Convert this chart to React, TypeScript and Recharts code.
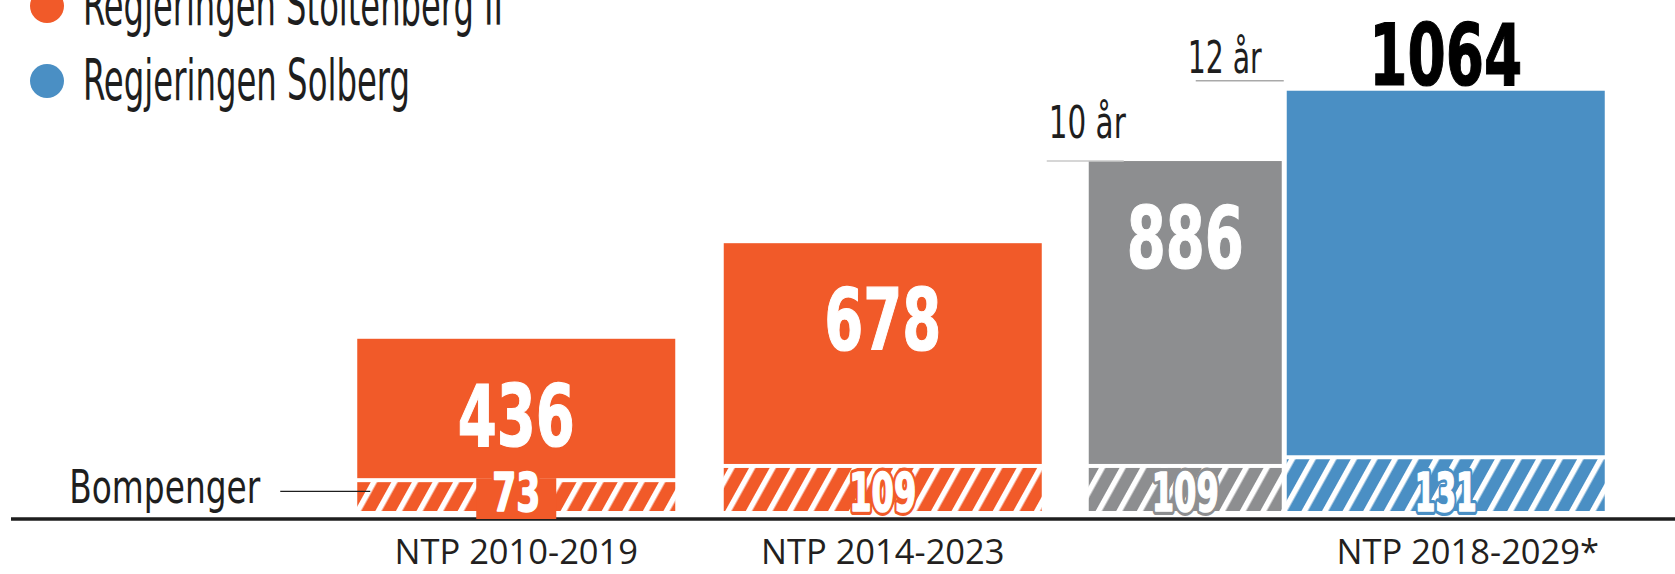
import React from 'react';
import { BarChart, Bar, XAxis, YAxis, LabelList, Legend, ReferenceLine } from 'recharts';

// ---------- data ----------
const categories = ['NTP 2010-2019', 'NTP 2014-2023', 'NTP 2018-2029*'];
const stoltenbergTotal: (number | null)[] = [436, 678, null];
const stoltenbergToll: (number | null)[] = [73, 109, null];
const tenYearTotal: (number | null)[] = [null, null, 886];
const tenYearToll: (number | null)[] = [null, null, 109];
const solbergTotal: (number | null)[] = [null, null, 1064];
const solbergToll: (number | null)[] = [null, null, 131];
const legendLabels = ['Regjeringen Stoltenberg II', 'Regjeringen Solberg'];
const tollLabel = 'Bompenger';
const tenYearLabel = '10 år';
const twelveYearLabel = '12 år';

const rest = (t: number | null, b: number | null) => (t == null || b == null ? null : t - b);

const data = categories.map((name, i) => ({
  name,
  stToll: stoltenbergToll[i],
  stRest: rest(stoltenbergTotal[i], stoltenbergToll[i]),
  tenToll: tenYearToll[i],
  tenRest: rest(tenYearTotal[i], tenYearToll[i]),
  soToll: solbergToll[i],
  soRest: rest(solbergTotal[i], solbergToll[i]),
}));

// ---------- styles ----------
const ORANGE = '#F15A29';
const GRAY = '#8D8E90';
const BLUE = '#4A8FC4';
const INK = '#1E1E1E';
const COND = "'Liberation Sans Narrow', 'Arial Narrow', 'DejaVu Sans Condensed', sans-serif";
const SANS = "'Open Sans', 'Noto Sans', sans-serif";
const GAP = 4;

const Y_MIN = -20.25;
const Y_MAX = 1293.7;

// width of condensed digits (textLength helpers)
const bigLen = (s: string) => s.split('').reduce((a, c) => a + (c === '1' ? 36 : 39), 0);
const smallLen = (s: string) => s.split('').reduce((a, c) => a + (c === '1' ? 19 : 24), 0);

const getBox = (p: any) => {
  const vb = p.viewBox || {};
  return {
    x: Number(p.x ?? vb.x),
    y: Number(p.y ?? vb.y),
    width: Number(p.width ?? vb.width),
    height: Number(p.height ?? vb.height),
    index: p.index,
  };
};

const TollShape = (p: any) => {
  const { x, y, width, height, fill } = p;
  if (!height || height <= 0) return null;
  return <rect x={x} y={y} width={width} height={height} fill={fill} />;
};

const RestShape = (p: any) => {
  const { x, y, width, height, fill } = p;
  const h = height - GAP;
  if (!height || h <= 0) return null;
  return <rect x={x} y={y} width={width} height={h} fill={fill} />;
};

const BigText = ({ x, y, v, fill }: { x: number; y: number; v: number; fill: string }) => {
  const s = String(v);
  return (
    <text x={x} y={y} textAnchor="middle" fill={fill} stroke={fill} strokeWidth={1.2} textLength={bigLen(s)}
      lengthAdjust="spacingAndGlyphs" style={{ fontFamily: COND, fontWeight: 700, fontSize: 85 }}>{s}</text>
  );
};

const insideTotal = (values: (number | null)[]) => (p: any) => {
  const b = getBox(p);
  const v = values[b.index];
  if (v == null) return null;
  return <BigText x={b.x + b.width / 2} y={b.y + 107} v={v} fill="#fff" />;
};

const aboveTotal = (values: (number | null)[]) => (p: any) => {
  const b = getBox(p);
  const v = values[b.index];
  if (v == null) return null;
  return <BigText x={b.x + b.width / 2} y={b.y - 6} v={v} fill="#000" />;
};

const tollValue = (values: (number | null)[], color: string) => (p: any) => {
  const b = getBox(p);
  const v = values[b.index];
  if (v == null) return null;
  const s = String(v);
  const cx = b.x + b.width / 2;
  const bottom = b.y + b.height;
  const small = b.height < 36;
  const common = {
    x: cx, y: bottom, textAnchor: 'middle' as const, textLength: smallLen(s),
    lengthAdjust: 'spacingAndGlyphs' as const,
    style: { fontFamily: COND, fontWeight: 700, fontSize: 53 },
  };
  return (
    <g>
      {small && <rect x={cx - 40} y={b.y - GAP} width={80} height={bottom - b.y + GAP + 8} fill={color} />}
      <text {...common} fill={color} stroke={color} strokeWidth={8} strokeLinejoin="round">{s}</text>
      <text {...common} fill="#fff" stroke="#fff" strokeWidth={1.6} strokeLinejoin="round">{s}</text>
    </g>
  );
};

const categoryLabel = (values: (number | null)[]) => (p: any) => {
  const b = getBox(p);
  if (values[b.index] == null) return null;
  const name = categories[b.index];
  const shift = name.endsWith('*') ? 22 : 0;
  return (
    <text x={b.x + b.width / 2 + shift} y={b.y + b.height + 53} textAnchor="middle" fill="#231F20"
      style={{ fontFamily: SANS, fontSize: 34.5 }}>{name}</text>
  );
};

const tollAnnotation = (p: any) => {
  const b = getBox(p);
  if (b.index !== 0) return null;
  const bottom = b.y + b.height;
  const ly = b.y + b.height * 0.32;
  return (
    <g>
      <text x={b.x - 97} y={bottom - 8} textAnchor="end" fill={INK} textLength={191} lengthAdjust="spacingAndGlyphs"
        style={{ fontFamily: COND, fontSize: 46 }}>{tollLabel}</text>
      <line x1={b.x - 77} x2={b.x + 13} y1={ly} y2={ly} stroke={INK} strokeWidth={1.3} />
    </g>
  );
};

const tenYearAnnotation = (p: any) => {
  const b = getBox(p);
  if (tenYearTotal[b.index] == null) return null;
  return (
    <g>
      <line x1={b.x - 42} x2={b.x + 35} y1={b.y} y2={b.y} stroke="#C9C9C9" strokeWidth={1.5} />
      <text x={b.x + 37} y={b.y - 23} textAnchor="end" fill={INK} textLength={77} lengthAdjust="spacingAndGlyphs"
        style={{ fontFamily: COND, fontSize: 45 }}>{tenYearLabel}</text>
    </g>
  );
};

const twelveYearAnnotation = (p: any) => {
  const b = getBox(p);
  if (solbergTotal[b.index] == null) return null;
  return (
    <g>
      <line x1={b.x - 91} x2={b.x - 3} y1={b.y - 10} y2={b.y - 10} stroke="#A9A9A9" strokeWidth={1.5} />
      <text x={b.x - 25} y={b.y - 18} textAnchor="end" fill={INK} textLength={74} lengthAdjust="spacingAndGlyphs"
        style={{ fontFamily: COND, fontSize: 45 }}>{twelveYearLabel}</text>
    </g>
  );
};

const legendColors = [ORANGE, BLUE];
const legendWidths = [420, 327];
const legendBaselines = [25, 100];

const LegendContent = () => (
  <svg width={800} height={130} style={{ display: 'block', overflow: 'visible' }}>
    {legendLabels.map((l, i) => (
      <g key={l}>
        <circle cx={47} cy={legendBaselines[i] - 19} r={17} fill={legendColors[i]} />
        <text x={83} y={legendBaselines[i]} fill={INK} textLength={legendWidths[i]} lengthAdjust="spacingAndGlyphs"
          style={{ fontFamily: COND, fontSize: 57 }}>{l}</text>
      </g>
    ))}
  </svg>
);

const Hatch = ({ id, color }: { id: string; color: string }) => (
  <pattern id={id} patternUnits="userSpaceOnUse" width={18} height={18} patternTransform="rotate(29)">
    <rect width={18} height={18} fill={color} />
    <rect width={5.5} height={18} fill="#fff" />
  </pattern>
);

export default function App() {
  return (
    <div style={{ width: 1675, height: 574, position: 'relative', background: '#fff' }}>
      <style>{'body{margin:0;background:#fff;}'}</style>
      <svg width={0} height={0} style={{ position: 'absolute' }}>
        <defs>
          <Hatch id="hatch-orange" color={ORANGE} />
          <Hatch id="hatch-gray" color={GRAY} />
          <Hatch id="hatch-blue" color={BLUE} />
        </defs>
      </svg>
      <BarChart width={1675} height={574} data={data} barGap={5}
        margin={{ top: 0, right: 0, bottom: 55, left: 11 }}>
        <XAxis xAxisId="a" dataKey="name" hide padding={{ left: 322.25, right: 242.25 }} />
        <XAxis xAxisId="b" dataKey="name" hide padding={{ left: 10.75, right: 63.25 }} />
        <YAxis hide type="number" domain={[Y_MIN, Y_MAX]} allowDataOverflow />
        <Legend layout="horizontal" verticalAlign="middle" align="center" content={LegendContent}
          wrapperStyle={{ top: 0, left: 0, width: 800, height: 130 }} />

        <Bar xAxisId="a" dataKey="stToll" stackId="st" barSize={318} fill="url(#hatch-orange)" shape={TollShape} isAnimationActive={false}>
          <LabelList dataKey="stToll" content={tollValue(stoltenbergToll, ORANGE)} />
          <LabelList dataKey="stToll" content={categoryLabel(stoltenbergToll)} />
          <LabelList dataKey="stToll" content={tollAnnotation} />
        </Bar>
        <Bar xAxisId="a" dataKey="stRest" stackId="st" barSize={318} fill={ORANGE} shape={RestShape} isAnimationActive={false}>
          <LabelList dataKey="stRest" content={insideTotal(stoltenbergTotal)} />
        </Bar>

        <Bar xAxisId="b" dataKey="tenToll" stackId="ten" barSize={193} fill="url(#hatch-gray)" shape={TollShape} isAnimationActive={false}>
          <LabelList dataKey="tenToll" content={tollValue(tenYearToll, GRAY)} />
        </Bar>
        <Bar xAxisId="b" dataKey="tenRest" stackId="ten" barSize={193} fill={GRAY} shape={RestShape} isAnimationActive={false}>
          <LabelList dataKey="tenRest" content={insideTotal(tenYearTotal)} />
          <LabelList dataKey="tenRest" content={tenYearAnnotation} />
        </Bar>

        <Bar xAxisId="b" dataKey="soToll" stackId="so" barSize={318} fill="url(#hatch-blue)" shape={TollShape} isAnimationActive={false}>
          <LabelList dataKey="soToll" content={tollValue(solbergToll, BLUE)} />
          <LabelList dataKey="soToll" content={categoryLabel(solbergToll)} />
        </Bar>
        <Bar xAxisId="b" dataKey="soRest" stackId="so" barSize={318} fill={BLUE} shape={RestShape} isAnimationActive={false}>
          <LabelList dataKey="soRest" content={aboveTotal(solbergTotal)} />
          <LabelList dataKey="soRest" content={twelveYearAnnotation} />
        </Bar>

        <ReferenceLine xAxisId="a" y={Y_MIN} stroke={INK} strokeWidth={3.5} />
      </BarChart>
    </div>
  );
}
